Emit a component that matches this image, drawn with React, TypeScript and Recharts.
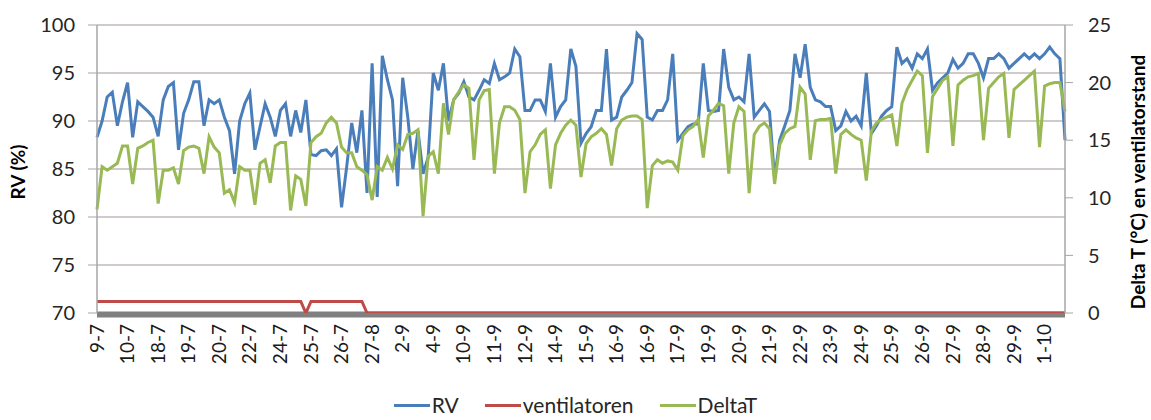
/**
 * Relative humidity, fan state and temperature difference per day.
 *
 * RV (%) sits on the left axis (70-100); ventilatoren (0/1) and DeltaT
 * share the right axis (0-25). Six readings per labelled day.
 */

import { LineChart, Line, XAxis, YAxis, CartesianGrid, Legend, Label } from 'recharts';

const POINTS_PER_DAY = 6;

const dayLabels = [
  '9-7', '10-7', '18-7', '19-7', '20-7', '22-7', '24-7', '25-7', '26-7', '27-8',
  '2-9', '4-9', '10-9', '11-9', '12-9', '14-9', '15-9', '16-9', '16-9', '17-9',
  '19-9', '20-9', '21-9', '22-9', '23-9', '24-9', '25-9', '26-9', '27-9', '28-9',
  '29-9', '1-10',
];

const rv = [
  88.3, 90, 92.5, 93, 89.5, 92, 94, 88.3, 92, 91.5,
  91, 90.4, 88.4, 92.2, 93.6, 94, 87, 90.8, 92.2, 94.1,
  94.1, 89.5, 92.2, 91.8, 92.2, 90.4, 89, 84.5, 90, 91.8,
  92.9, 87, 89.4, 91.8, 90.4, 88.4, 91.1, 91.8, 88.4, 91.1,
  88.8, 92.2, 86.5, 86.4, 86.9, 87, 86.4, 87.1, 81, 85.2,
  89.8, 86.7, 91.1, 82.5, 96, 82.1, 96.8, 94.3, 92.2, 83.2,
  94.5, 90.4, 85, 89, 84.5, 86.2, 95, 93.2, 96, 90,
  92.2, 92.9, 94.1, 92.5, 92.2, 93.2, 94.3, 93.9, 96, 94.3,
  94.6, 95, 97.5, 96.7, 91.1, 91.1, 92.2, 92.2, 91, 96,
  90.4, 91.5, 92.2, 97.5, 95.7, 87.7, 88.7, 89.4, 91.1, 91.1,
  97.5, 90.1, 90.4, 92.5, 93.2, 94, 99.1, 98.5, 90.4, 90.1,
  91.1, 91.1, 92.2, 97, 88, 88.7, 89.4, 89.7, 89.7, 96,
  91.1, 91, 91.1, 97.5, 93.5, 92.2, 92.5, 92, 97, 90.4,
  91.1, 91.8, 91, 84, 88, 89.5, 91.1, 97, 94.5, 98,
  93.5, 92.2, 92, 91.5, 91.5, 89, 89.5, 91, 90, 90.5,
  89.5, 95, 88.7, 89.5, 90.5, 91.1, 91.5, 97.7, 96, 96.5,
  95.5, 97, 96.5, 97.5, 93.2, 94, 94.5, 95, 96.4, 95.5,
  96, 97, 97, 96, 94.5, 96.5, 96.5, 97, 96.5, 95.5,
  96, 96.5, 97, 96.5, 97, 96.5, 97, 97.7, 97, 96.5,
  88,
];

const deltaT = [
  9, 12.7, 12.4, 12.7, 13, 14.5, 14.5, 11.2, 14.3, 14.5,
  14.8, 15, 9.5, 12.4, 12.4, 12.6, 11.2, 14.1, 14.4, 14.5,
  14.3, 12.1, 15.3, 14.4, 13.9, 10.4, 10.7, 9.6, 12.7, 12.4,
  12.4, 9.4, 13, 13.3, 11.3, 14.5, 14.8, 14.8, 8.9, 11.9,
  11.6, 9.3, 14.8, 15.3, 15.6, 16.5, 17, 16.5, 14.4, 13.9,
  13.9, 12.7, 12.4, 12, 9.8, 12.7, 12.4, 13.5, 12.5, 14.6,
  14.2, 15.5, 15.6, 15.9, 8.4, 13.6, 14, 12.1, 18.2, 15.5,
  18.5, 19.2, 19.8, 19.5, 13.3, 18.5, 19.3, 19.4, 12.1, 16.5,
  17.9, 17.9, 17.6, 16.8, 10.4, 14, 14.6, 15.5, 15.9, 10.8,
  14.6, 15.6, 16.3, 16.75, 16.3, 11.8, 14.7, 15.3, 15.6, 16,
  15.5, 12.8, 16, 16.75, 17, 17.1, 17.1, 16.8, 9.1, 12.8,
  13.3, 13, 13.2, 13.1, 12.4, 15.4, 15.9, 16.2, 16.8, 13.5,
  17.1, 17.6, 18.2, 18, 12.1, 16.5, 17.9, 17.5, 10.4, 15.5,
  16.2, 16.5, 16, 11.2, 14.6, 15.6, 16, 16.2, 19.6, 19,
  13.3, 16.7, 16.8, 16.8, 16.9, 12.1, 15.5, 15.9, 15.5, 15.2,
  15, 11.5, 15.8, 16.5, 16.8, 17, 17.2, 14.5, 18.2, 19.4,
  20.2, 21, 20.6, 13.9, 18.8, 19.5, 20.2, 20.5, 14.5, 19.8,
  20.2, 20.5, 20.6, 20.8, 15, 19.5, 20, 20.5, 20.8, 15.2,
  19.4, 19.8, 20.2, 20.6, 21, 14.4, 19.7, 19.9, 20, 20,
  17.5,
];

// fan stand: on until late July with a short stop, off afterwards
const ventilatoren = [
  1, 1, 1, 1, 1, 1, 1, 1, 1, 1, 1, 1, 1, 1, 1, 1, 1, 1, 1, 1,
  1, 1, 1, 1, 1, 1, 1, 1, 1, 1, 1, 1, 1, 1, 1, 1, 1, 1, 1, 1,
  1, 0, 1, 1, 1, 1, 1, 1, 1, 1, 1, 1, 1, 0, 0, 0, 0, 0, 0, 0,
  0, 0, 0, 0, 0, 0, 0, 0, 0, 0, 0, 0, 0, 0, 0, 0, 0, 0, 0, 0,
  0, 0, 0, 0, 0, 0, 0, 0, 0, 0, 0, 0, 0, 0, 0, 0, 0, 0, 0, 0,
  0, 0, 0, 0, 0, 0, 0, 0, 0, 0, 0, 0, 0, 0, 0, 0, 0, 0, 0, 0,
  0, 0, 0, 0, 0, 0, 0, 0, 0, 0, 0, 0, 0, 0, 0, 0, 0, 0, 0, 0,
  0, 0, 0, 0, 0, 0, 0, 0, 0, 0, 0, 0, 0, 0, 0, 0, 0, 0, 0, 0,
  0, 0, 0, 0, 0, 0, 0, 0, 0, 0, 0, 0, 0, 0, 0, 0, 0, 0, 0, 0,
  0, 0, 0, 0, 0, 0, 0, 0, 0, 0, 0,
];

const rvTicks = [70, 75, 80, 85, 90, 95, 100];
const deltaTicks = [0, 5, 10, 15, 20, 25];

const COLORS = {
  rv: '#4a7ebb',
  ventilatoren: '#be4b48',
  deltaT: '#98b954',
};

const FONT = 'Lato, "Open Sans", sans-serif';
const TEXT = '#262626';
const GRID = '#c2b8b8';

const data = rv.map((value, i) => ({
  idx: i,
  RV: value,
  ventilatoren: ventilatoren[i],
  DeltaT: deltaT[i],
}));

const legendItems = [
  { name: 'RV', color: COLORS.rv },
  { name: 'ventilatoren', color: COLORS.ventilatoren },
  { name: 'DeltaT', color: COLORS.deltaT },
];

function DayTick({ x, y, payload }: any) {
  const label = dayLabels[Math.floor(payload.value / POINTS_PER_DAY)];
  return (
    <text
      x={x}
      y={y}
      dy="0.35em"
      transform={`rotate(-90, ${x}, ${y})`}
      textAnchor="end"
      fill="#1a1a1a"
      fontSize={19}
      fontFamily={FONT}
    >
      {label}
    </text>
  );
}

// Grid lines; the base line doubles as the heavy grey category axis,
// drawn under the series so the red fan line stays visible on top.
function GridLine(props: any) {
  const { x1, y1, x2, y2 } = props;
  if (y1 > 310) {
    return (
      <line x1={x1} y1={y1 + 1.5} x2={x2} y2={y2 + 1.5} stroke="#808080" strokeWidth={6} />
    );
  }
  return <line x1={x1} y1={y1} x2={x2} y2={y2} stroke={GRID} strokeWidth={1.5} />;
}

function axisTitle(text: string, x: number, y: number) {
  return () => (
    <text
      x={x}
      y={y}
      dy="0.35em"
      transform={`rotate(-90, ${x}, ${y})`}
      textAnchor="middle"
      fill="#000"
      fontSize={19}
      fontWeight={700}
      fontFamily={FONT}
    >
      {text}
    </text>
  );
}

function LegendContent() {
  return (
    <div
      style={{
        display: 'flex',
        justifyContent: 'center',
        alignItems: 'center',
        gap: 26,
        paddingTop: 18,
        fontFamily: FONT,
        fontSize: 21,
        color: TEXT,
        lineHeight: '24px',
      }}
    >
      {legendItems.map((item) => (
        <span key={item.name} style={{ display: 'flex', alignItems: 'center' }}>
          <span
            style={{
              display: 'inline-block',
              width: 36,
              height: 3,
              background: item.color,
              marginRight: 2,
            }}
          />
          {item.name}
        </span>
      ))}
    </div>
  );
}

export default function App() {
  return (
    <div
      style={{
        position: 'absolute',
        left: 0,
        top: 0,
        width: 1151,
        height: 420,
        background: '#fff',
        fontFamily: FONT,
      }}
    >
      <LineChart
        width={1151}
        height={420}
        data={data}
        margin={{ top: 25, right: 0, bottom: 0, left: 0 }}
      >
        <CartesianGrid
          yAxisId="rv"
          vertical={false}
          horizontal={GridLine}
          stroke={GRID}
        />
        <XAxis
          dataKey="idx"
          type="category"
          height={62}
          interval={POINTS_PER_DAY - 1}
          tickLine={false}
          tickSize={0}
          tickMargin={11}
          tick={<DayTick />}
          axisLine={false}
        />
        <YAxis
          yAxisId="rv"
          orientation="left"
          type="number"
          width={97}
          domain={[70, 100]}
          ticks={rvTicks}
          allowDataOverflow
          axisLine={{ stroke: '#a6a6a6', strokeWidth: 1.5 }}
          tickLine={{ stroke: '#a6a6a6' }}
          tickSize={9}
          tickMargin={13}
          tick={{ fill: TEXT, fontSize: 20, fontFamily: FONT }}
        >
          <Label content={axisTitle('RV (%)', 18, 172)} />
        </YAxis>
        <YAxis
          yAxisId="dt"
          orientation="right"
          type="number"
          width={86}
          domain={[0, 25]}
          ticks={deltaTicks}
          allowDataOverflow
          axisLine={{ stroke: '#a6a6a6', strokeWidth: 1.5 }}
          tickLine={{ stroke: '#a6a6a6' }}
          tickSize={8}
          tickMargin={15}
          tick={{ fill: TEXT, fontSize: 20, fontFamily: FONT }}
        >
          <Label content={axisTitle('Delta T (°C) en ventilatorstand', 1138, 182)} />
        </YAxis>
        <Legend verticalAlign="bottom" height={45} content={LegendContent} />
        <Line
          yAxisId="rv"
          type="linear"
          dataKey="RV"
          stroke={COLORS.rv}
          strokeWidth={3}
          dot={false}
          activeDot={false}
          isAnimationActive={false}
        />
        <Line
          yAxisId="dt"
          type="linear"
          dataKey="ventilatoren"
          stroke={COLORS.ventilatoren}
          strokeWidth={3}
          dot={false}
          activeDot={false}
          isAnimationActive={false}
        />
        <Line
          yAxisId="dt"
          type="linear"
          dataKey="DeltaT"
          stroke={COLORS.deltaT}
          strokeWidth={3}
          dot={false}
          activeDot={false}
          isAnimationActive={false}
        />
      </LineChart>
    </div>
  );
}
